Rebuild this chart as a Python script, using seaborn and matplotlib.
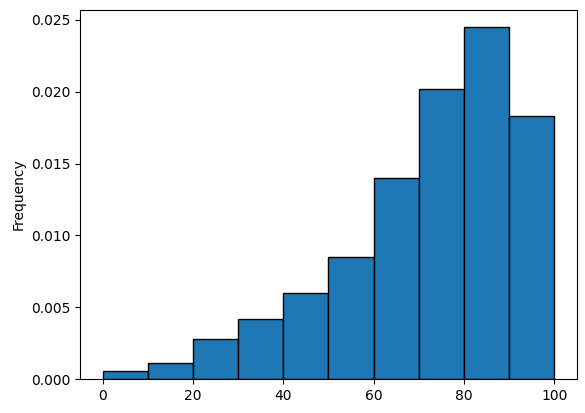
import matplotlib
matplotlib.use("Agg")
import matplotlib.pyplot as plt
import seaborn as sns
import numpy as np

bin_edges = [0, 10, 20, 30, 40, 50, 60, 70, 80, 90, 100]
densities = [0.00055, 0.0011, 0.0028, 0.0042, 0.0060, 0.0085, 0.0140, 0.0202, 0.0245, 0.0183]
centers = [(a + b) / 2 for a, b in zip(bin_edges[:-1], bin_edges[1:])]

fig = plt.figure(figsize=(5.85, 4.13), dpi=100)
ax = fig.add_axes([0.137, 0.082, 0.849, 0.894])
sns.histplot(x=centers, weights=densities, bins=bin_edges, ax=ax,
             color="#1f77b4", alpha=1, edgecolor="black", linewidth=1)
ax.set_ylabel("Frequency")
ax.set_xlabel("")
ax.set_xlim(-5, 105)
ax.set_ylim(0, 0.0257)
ax.set_xticks([0, 20, 40, 60, 80, 100])
fig.savefig("out.png", dpi=100)
